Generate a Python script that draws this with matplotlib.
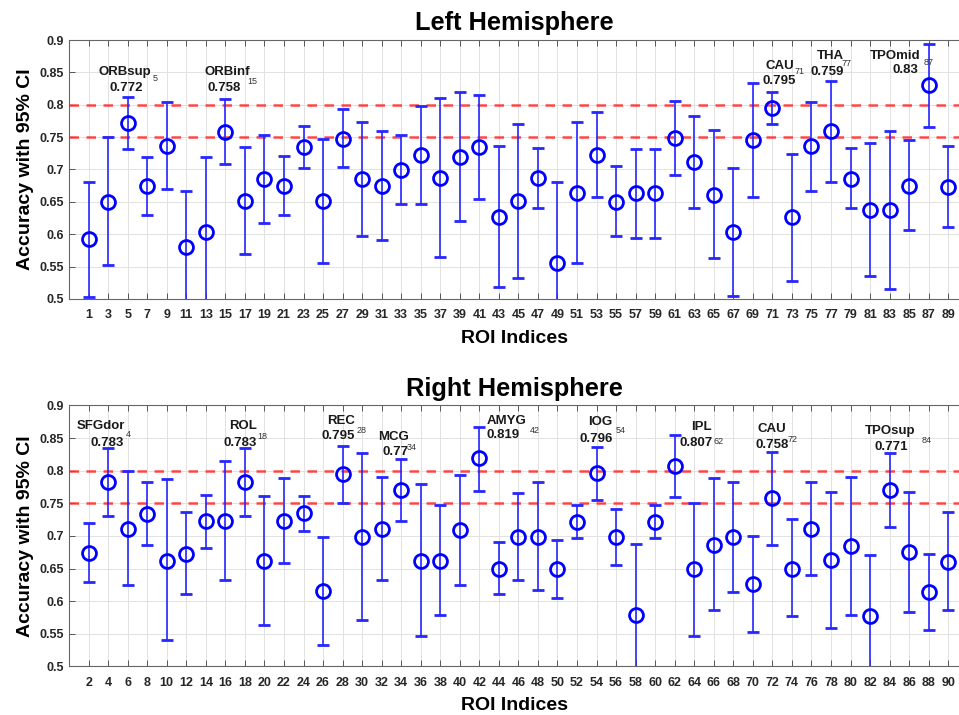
import numpy as np
import matplotlib
matplotlib.use('Agg')
import matplotlib.pyplot as plt

plt.rcParams['font.family'] = ['Liberation Sans', 'DejaVu Sans']

# Left hemisphere (odd ROI indices)
left_roi = np.arange(1, 90, 2)
left_acc = [0.593, 0.650, 0.772, 0.674, 0.737, 0.580, 0.604, 0.758, 0.652, 0.685,
            0.674, 0.735, 0.652, 0.747, 0.685, 0.675, 0.699, 0.722, 0.687, 0.720,
            0.735, 0.627, 0.652, 0.687, 0.555, 0.664, 0.723, 0.650, 0.663, 0.663,
            0.748, 0.712, 0.661, 0.603, 0.746, 0.795, 0.626, 0.736, 0.759, 0.686,
            0.638, 0.638, 0.674, 0.830, 0.673]
left_upper = [0.681, 0.750, 0.812, 0.720, 0.804, 0.667, 0.719, 0.809, 0.735, 0.753,
              0.721, 0.767, 0.747, 0.793, 0.774, 0.760, 0.753, 0.798, 0.810, 0.820,
              0.815, 0.736, 0.771, 0.733, 0.680, 0.774, 0.789, 0.705, 0.731, 0.731,
              0.806, 0.782, 0.761, 0.703, 0.834, 0.820, 0.724, 0.804, 0.837, 0.733,
              0.741, 0.760, 0.745, 0.894, 0.736]
left_lower = [0.503, 0.552, 0.732, 0.629, 0.670, 0.493, 0.489, 0.708, 0.569, 0.617,
              0.629, 0.703, 0.556, 0.704, 0.597, 0.591, 0.646, 0.646, 0.565, 0.621,
              0.655, 0.519, 0.532, 0.641, 0.430, 0.555, 0.658, 0.597, 0.594, 0.594,
              0.691, 0.641, 0.563, 0.505, 0.658, 0.770, 0.528, 0.667, 0.681, 0.641,
              0.536, 0.515, 0.606, 0.765, 0.611]

# Right hemisphere (even ROI indices)
right_roi = np.arange(2, 91, 2)
right_acc = [0.674, 0.783, 0.710, 0.734, 0.662, 0.673, 0.723, 0.723, 0.783, 0.662,
             0.723, 0.735, 0.616, 0.795, 0.698, 0.710, 0.770, 0.662, 0.662, 0.709,
             0.819, 0.650, 0.698, 0.699, 0.649, 0.722, 0.796, 0.698, 0.578, 0.722,
             0.807, 0.649, 0.686, 0.699, 0.627, 0.758, 0.650, 0.710, 0.663, 0.684,
             0.577, 0.771, 0.675, 0.614, 0.660]
right_upper = [0.720, 0.834, 0.799, 0.783, 0.787, 0.736, 0.762, 0.815, 0.834, 0.761,
               0.788, 0.761, 0.698, 0.838, 0.827, 0.790, 0.818, 0.780, 0.747, 0.793,
               0.867, 0.691, 0.765, 0.782, 0.694, 0.747, 0.837, 0.741, 0.688, 0.747,
               0.854, 0.751, 0.788, 0.782, 0.700, 0.829, 0.726, 0.782, 0.767, 0.790,
               0.670, 0.827, 0.767, 0.672, 0.737]
right_lower = [0.629, 0.731, 0.625, 0.686, 0.541, 0.611, 0.682, 0.633, 0.731, 0.564,
               0.658, 0.708, 0.533, 0.751, 0.571, 0.632, 0.723, 0.546, 0.578, 0.625,
               0.769, 0.611, 0.632, 0.617, 0.605, 0.697, 0.755, 0.656, 0.468, 0.697,
               0.759, 0.547, 0.587, 0.614, 0.553, 0.686, 0.577, 0.640, 0.559, 0.579,
               0.484, 0.714, 0.583, 0.556, 0.586]

# labelled ROIs: (index, name, value text)
left_notes = [(5, 'ORBsup', '0.772'), (15, 'ORBinf', '0.758'), (71, 'CAU', '0.795'),
              (77, 'THA', '0.759'), (87, 'TPOmid', '0.83')]
right_notes = [(4, 'SFGdor', '0.783'), (18, 'ROL', '0.783'), (28, 'REC', '0.795'),
               (34, 'MCG', '0.77'), (42, 'AMYG', '0.819'), (54, 'IOG', '0.796'),
               (62, 'IPL', '0.807'), (72, 'CAU', '0.758'), (84, 'TPOsup', '0.771')]

# label placement: name centre, value centre, index left edge (data coords)
left_pos = [((4.7, 0.851), (4.9, 0.826), (7.6, 0.841)),
            ((15.2, 0.851), (14.9, 0.826), (17.3, 0.836)),
            ((71.8, 0.860), (71.7, 0.836), (73.3, 0.851)),
            ((76.9, 0.875), (76.6, 0.850), (78.1, 0.864)),
            ((83.6, 0.876), (84.6, 0.854), (86.5, 0.866))]
right_pos = [((3.3, 0.868), (3.9, 0.843), (5.8, 0.855)),
             ((17.8, 0.868), (17.5, 0.843), (19.3, 0.853)),
             ((27.8, 0.876), (27.6, 0.853), (29.4, 0.862)),
             ((33.2, 0.852), (33.45, 0.828), (34.6, 0.836)),
             ((44.8, 0.876), (44.45, 0.854), (47.2, 0.862)),
             ((54.4, 0.875), (54.0, 0.849), (56.0, 0.862)),
             ((64.7, 0.867), (64.2, 0.843), (66.0, 0.844)),
             ((71.9, 0.864), (72.0, 0.839), (73.5, 0.847)),
             ((84.1, 0.861), (84.2, 0.837), (87.3, 0.846))]

fig = plt.figure(figsize=(9.59, 7.15), dpi=100)
ax_top = fig.add_axes([0.072, 0.582, 0.928, 0.362])
ax_bot = fig.add_axes([0.072, 0.068, 0.928, 0.365])

panels = [
    (ax_top, 'Left Hemisphere', left_roi, left_acc, left_upper, left_lower,
     left_notes, left_pos, (-1, 90.1)),
    (ax_bot, 'Right Hemisphere', right_roi, right_acc, right_upper, right_lower,
     right_notes, right_pos, (0, 91.1)),
]

for ax, title, roi, acc, up, lo, notes, pos, xlim in panels:
    acc = np.array(acc)
    yerr = [acc - np.array(lo), np.array(up) - acc]
    ax.axhline(0.8, color='#ff2a2a', ls=(0, (3.8, 3)), lw=1.8, alpha=0.85, zorder=2)
    ax.axhline(0.75, color='#ff2a2a', ls=(0, (3.8, 3)), lw=1.8, alpha=0.85, zorder=2)
    ax.errorbar(roi, acc, yerr=yerr, fmt='o', mfc='none', mec='#0000ff', ms=10,
                mew=2, ecolor='#2626ff', elinewidth=1.2, capsize=4.5, capthick=1.2,
                zorder=3)

    for (idx, name, val), (npos, vpos, ipos) in zip(notes, pos):
        ax.text(npos[0], npos[1], name, ha='center', va='center', fontsize=9.5,
                fontweight='bold', color='#1a1a1a')
        ax.text(vpos[0], vpos[1], val, ha='center', va='center', fontsize=9.5,
                fontweight='bold', color='#1a1a1a')
        ax.text(ipos[0], ipos[1], str(idx), ha='left', va='center', fontsize=6.5,
                color='#333333')

    ax.set_xlim(*xlim)
    ax.set_ylim(0.5, 0.9)
    ax.set_xticks(roi)
    ax.set_yticks([0.5, 0.55, 0.6, 0.65, 0.7, 0.75, 0.8, 0.85, 0.9])
    ax.set_yticklabels(['0.5', '0.55', '0.6', '0.65', '0.7', '0.75', '0.8', '0.85', '0.9'])
    ax.grid(True, color='#e2e2e2', lw=0.7)
    ax.set_axisbelow(True)
    ax.tick_params(direction='in', top=True, right=False, length=4, width=0.7,
                   color='#555555', labelsize=9, labelcolor='#262626')
    ax.tick_params(axis='x', pad=7.5)
    for lab in ax.get_xticklabels() + ax.get_yticklabels():
        lab.set_fontweight('bold')
    for side in ['top', 'left', 'bottom']:
        ax.spines[side].set_color('#666666')
        ax.spines[side].set_linewidth(0.8)
    ax.spines['right'].set_visible(False)
    ax.set_title(title, fontsize=18.3, fontweight='bold', pad=7)
    ax.set_xlabel('ROI Indices', fontsize=14, fontweight='bold', labelpad=6)
    ax.set_ylabel('Accuracy with 95% CI', fontsize=14, fontweight='bold', labelpad=4)

fig.savefig('out.png', dpi=100)
